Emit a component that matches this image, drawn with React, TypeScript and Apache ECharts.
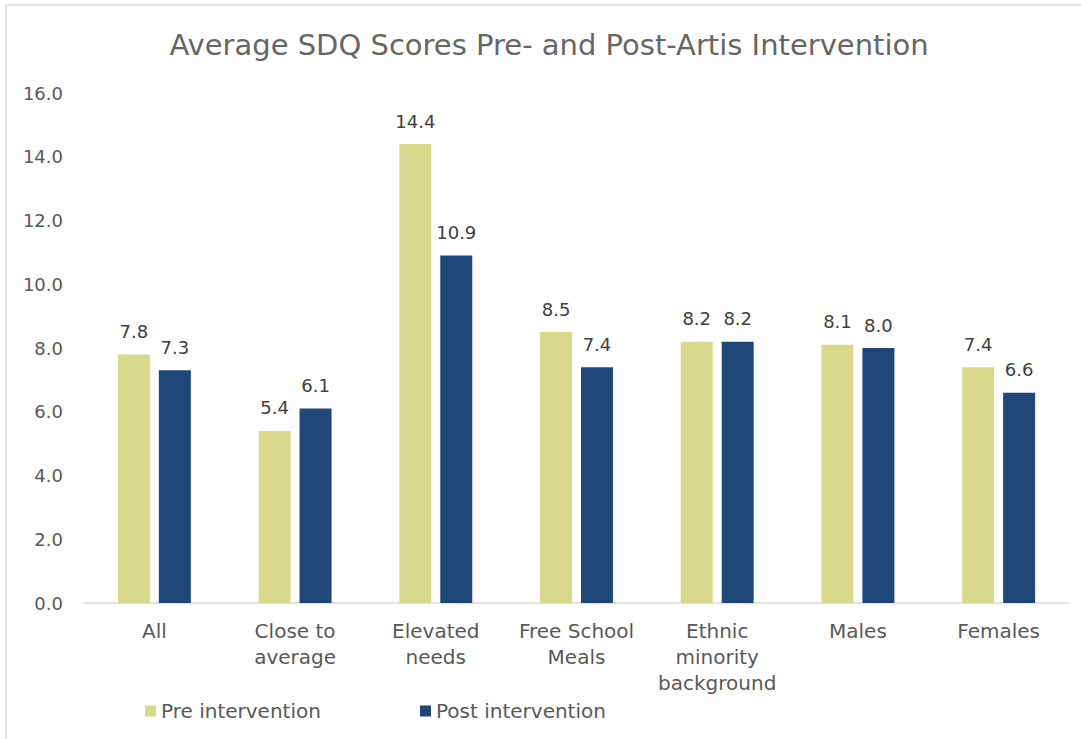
import React, { useEffect, useRef } from "react";
import * as echarts from "echarts";

const categories = ["All", "Close to\naverage", "Elevated\nneeds", "Free School\nMeals", "Ethnic\nminority\nbackground", "Males", "Females"];
const preValues = [7.8, 5.4, 14.4, 8.5, 8.2, 8.1, 7.4];
const postValues = [7.3, 6.1, 10.9, 7.4, 8.2, 8.0, 6.6];
const seriesNames = ["Pre intervention", "Post intervention"];
const titleText = "Average SDQ Scores Pre- and Post-Artis Intervention";

const FONT = "'DejaVu Sans', sans-serif";

export default function App() {
  const ref = useRef<HTMLDivElement>(null);
  useEffect(() => {
    if (!ref.current) return;
    const chart = echarts.init(ref.current, null, { renderer: "svg" });
    const labelStyle = {
      show: true,
      position: "top" as const,
      distance: 14,
      fontSize: 18,
      color: "#404040",
      fontFamily: FONT,
      formatter: (p: any) => Number(p.value).toFixed(1),
    };
    chart.setOption({
      animation: false,
      backgroundColor: "#ffffff",
      textStyle: { fontFamily: FONT },
      graphic: [
        {
          type: "rect",
          shape: { x: 6, y: 5, width: 1200, height: 800 },
          style: { fill: "none", stroke: "#d9d9d9", lineWidth: 1.5 },
          silent: true,
        },
        {
          type: "text",
          x: 549,
          y: 45,
          style: {
            text: titleText,
            fontSize: 29,
            fontFamily: FONT,
            fill: "#666666",
            textAlign: "center",
            textVerticalAlign: "middle",
          },
        },
      ],
      legend: [
        {
          data: [seriesNames[0]],
          left: 140,
          top: 696,
          itemWidth: 11,
          itemHeight: 11,
          icon: "rect",
          textStyle: { fontSize: 20, color: "#595959", fontFamily: FONT },
        },
        {
          data: [seriesNames[1]],
          left: 415,
          top: 696,
          itemWidth: 11,
          itemHeight: 11,
          icon: "rect",
          textStyle: { fontSize: 20, color: "#595959", fontFamily: FONT },
        },
      ],
      grid: { left: 84, right: 12, top: 93, bottom: 136, containLabel: false },
      xAxis: {
        type: "category",
        data: categories,
        axisLine: { show: true, lineStyle: { color: "#d9d9d9", width: 1.5 } },
        axisTick: { show: false },
        axisLabel: {
          fontSize: 20,
          color: "#595959",
          lineHeight: 26,
          margin: 15,
          interval: 0,
          fontFamily: FONT,
        },
      },
      yAxis: {
        type: "value",
        min: 0,
        max: 16,
        interval: 2,
        splitLine: { show: false },
        axisLine: { show: false },
        axisTick: { show: false },
        axisLabel: {
          fontSize: 18,
          color: "#595959",
          margin: 21,
          fontFamily: FONT,
          formatter: (v: number) => v.toFixed(1),
        },
      },
      series: [
        {
          name: seriesNames[0],
          type: "bar",
          data: preValues,
          barWidth: 32,
          barGap: "28%",
          itemStyle: { color: "#d8d98b" },
          label: labelStyle,
        },
        {
          name: seriesNames[1],
          type: "bar",
          data: postValues,
          barWidth: 32,
          barGap: "28%",
          itemStyle: { color: "#1f477a" },
          label: labelStyle,
        },
      ],
    });
    return () => chart.dispose();
  }, []);
  return (
    <div
      ref={ref}
      style={{ position: "absolute", left: 0, top: 0, width: 1081, height: 739, background: "#fff" }}
    />
  );
}
